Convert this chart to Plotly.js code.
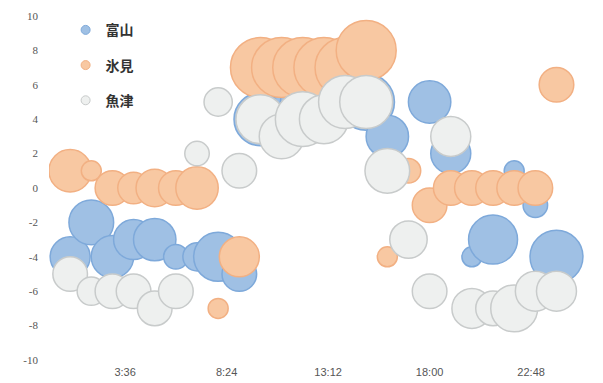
<!DOCTYPE html>
<html>
<head>
<meta charset="utf-8">
<script src="https://cdn.plot.ly/plotly-3.0.1.min.js"></script>
<style>
  html, body { margin: 0; padding: 0; background: #ffffff; }
  #chart { width: 603px; height: 383px; }
</style>
</head>
<body>
<div id="chart"></div>
<script>
// Hour of day for each observation
const hours = [1, 2, 3, 4, 5, 6, 7, 8, 9, 10, 11, 12, 13, 14, 15, 16, 17, 18, 19, 20, 21, 22, 23, 24];

// Series names
const seriesNames = ["富山", "氷見", "魚津"];

// 富山
const toyamaY    = [-4, -2, -4, -3, -3, -4, -4, -4, -5, 4, 4, 5, 4, 5, 5, 3, 1, 5, 2, -4, -3, 1, -1, -4];
const toyamaSize = [8, 10, 9, 8, 9, 3, 4, 12, 6, 14, 10, 10, 10, 10, 16, 9, 2, 9, 8, 2, 12, 2, 3, 14];

// 氷見
const himiY    = [1, 1, 0, 0, 0, 0, 0, -7, -4, 7, 7, 7, 7, 7, 8, -4, 1, -1, 0, 0, 0, 0, 0, 6];
const himiSize = [9, 2, 6, 5, 7, 6, 9, 2, 8, 18, 18, 18, 18, 18, 18, 2, 3, 6, 6, 6, 6, 6, 6, 6];

// 魚津
const uozuY    = [-5, -6, -6, -6, -7, -6, 2, 5, 1, 4, 3, 4, 4, 5, 5, 1, -3, -6, 3, -7, -7, -7, -6, -6];
const uozuSize = [6, 4, 6, 6, 6, 6, 3, 4, 6, 12, 10, 15, 12, 14, 14, 10, 7, 6, 8, 8, 6, 11, 8, 8];

// Axis ticks
const xTickVals = [3.6, 8.4, 13.2, 18, 22.8];
const xTickText = ["3:36", "8:24", "13:12", "18:00", "22:48"];
const yTickVals = [-10, -8, -6, -4, -2, 0, 2, 4, 6, 8, 10];
const yTickText = ["-10", "-8", "-6", "-4", "-2", "0", "2", "4", "6", "8", "10"];

const fills = ["#9fc0e4", "#f8c8a2", "#eef0ef"];
const lines = ["#7ea9da", "#f2b083", "#c8cbcb"];

function bubbleTrace(i, yVals, sizes) {
  return {
    type: "scatter",
    mode: "markers",
    name: seriesNames[i],
    legendgroup: "g" + i,
    showlegend: false,
    x: hours,
    y: yVals,
    marker: {
      size: sizes,
      sizemode: "area",
      sizeref: 0.01,
      color: fills[i],
      opacity: 1,
      line: { color: lines[i], width: 1.5 }
    },
    hoverinfo: "x+y"
  };
}

// Legend entries (small key markers, as in the original legend)
function legendTrace(i) {
  return {
    type: "scatter",
    mode: "markers",
    name: seriesNames[i],
    legendgroup: "g" + i,
    showlegend: true,
    x: [null],
    y: [null],
    marker: { size: 9, color: fills[i], line: { color: lines[i], width: 1 } },
    hoverinfo: "skip"
  };
}

const data = [
  bubbleTrace(0, toyamaY, toyamaSize),
  bubbleTrace(1, himiY, himiSize),
  bubbleTrace(2, uozuY, uozuSize),
  legendTrace(0),
  legendTrace(1),
  legendTrace(2)
];

const layout = {
  width: 603,
  height: 383,
  margin: { l: 49, r: 0, t: 16, b: 23, pad: 0 },
  paper_bgcolor: "#ffffff",
  plot_bgcolor: "#ffffff",
  showlegend: true,
  legend: {
    x: 0.03, y: 1.005, xanchor: "left", yanchor: "top",
    bgcolor: "rgba(0,0,0,0)",
    traceorder: "grouped",
    tracegroupgap: 14,
    itemsizing: "trace",
    font: { family: "Noto Sans CJK JP, sans-serif", size: 14, color: "#333333", weight: "bold" }
  },
  xaxis: {
    range: [0, 26.2],
    tickmode: "array",
    tickvals: xTickVals,
    ticktext: xTickText,
    showgrid: false,
    zeroline: false,
    showline: false,
    ticks: "",
    ticklabelstandoff: 4,
    tickfont: { family: "Liberation Sans, Arial, sans-serif", size: 11, color: "#555555" }
  },
  yaxis: {
    range: [-10, 10],
    tickmode: "array",
    tickvals: yTickVals,
    ticktext: yTickText,
    showgrid: false,
    zeroline: false,
    showline: false,
    ticks: "",
    ticklabelstandoff: 10,
    tickfont: { family: "Liberation Serif, Times New Roman, serif", size: 11, color: "#555555" }
  }
};

Plotly.newPlot("chart", data, layout, { displayModeBar: false, staticPlot: true });
</script>
</body>
</html>
